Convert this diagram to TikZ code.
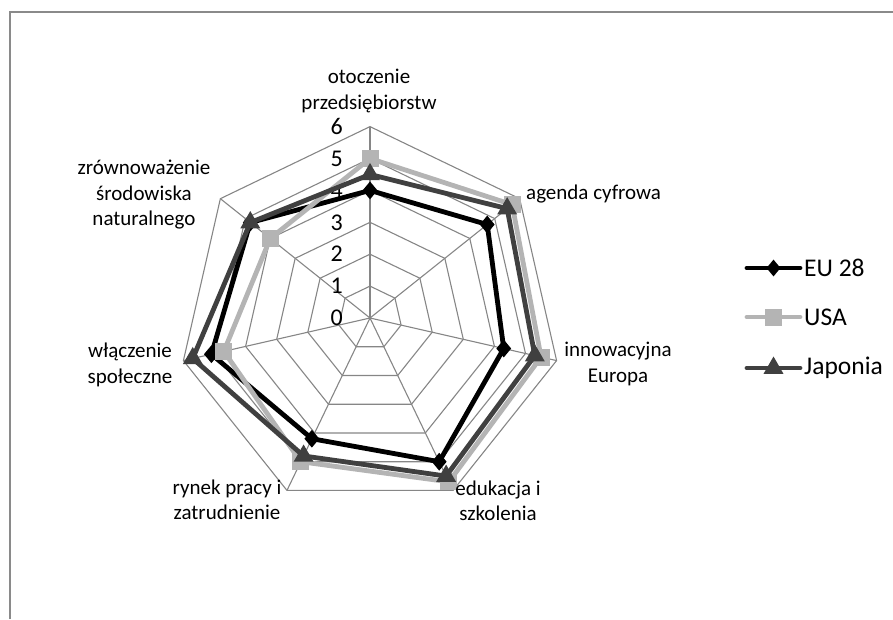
\documentclass[tikz,border=0pt]{standalone}
\usepackage{fontspec}
\setmainfont{Carlito}
\usetikzlibrary{shapes.geometric}
\definecolor{gridgray}{HTML}{868686}
\definecolor{framegray}{HTML}{8A8A8A}
\definecolor{usagray}{HTML}{B4B4B4}
\definecolor{jpgray}{HTML}{404040}
\newcommand\cx{370}
\newcommand\cy{318}
\newcommand\un{31.9}
\begin{document}
\begin{tikzpicture}[x=1pt,y=-1pt,
  gridline/.style={draw=gridgray, line width=1.1pt},
  serline/.style={line width=4.8pt, line join=round, line cap=round},
  eumark/.style={diamond, fill=black, inner sep=0pt, minimum width=15pt, minimum height=18pt},
  usamark/.style={rectangle, fill=usagray, inner sep=0pt, minimum size=17pt},
  jpmark/.style={regular polygon, regular polygon sides=3, fill=jpgray, inner sep=0pt, minimum size=23pt},
  cat/.style={font=\fontsize{21}{25.5}\selectfont, align=center, inner sep=0pt},
  tick/.style={font=\fontsize{24}{28}\selectfont, anchor=east, inner sep=0pt},
  leg/.style={font=\fontsize{25.5}{30}\selectfont, anchor=west, inner sep=0pt}]
\useasboundingbox (0,0) rectangle (893,619);
\draw[framegray, line width=2pt] (10,619) -- (10,12) -- (893,12);
\coordinate (c) at (\cx,\cy);
% axes
\foreach \k in {0,...,6} {
  \coordinate (ax\k) at ({\cx+6*\un*cos(90-\k*360/7)}, {\cy-6*\un*sin(90-\k*360/7)});
  \draw[gridline] (c) -- (ax\k);
}
% rings
\foreach \r in {1,...,6} {
  \draw[gridline] ({\cx+\r*\un*cos(90)}, {\cy-\r*\un*sin(90)})
    \foreach \k in {1,...,6} { -- ({\cx+\r*\un*cos(90-\k*360/7)}, {\cy-\r*\un*sin(90-\k*360/7)}) } -- cycle;
}
% tick labels
\foreach \v in {0,...,6} {
  \node[tick] (t\v) at (343, {\cy-\v*\un}) {\v};
}
% series points
\foreach \v [count=\i from 0] in {4.0,4.7,4.3,5.0,4.2,5.1,4.8} {
  \coordinate (eu\i) at ({\cx+\v*\un*cos(90-\i*360/7)}, {\cy-\v*\un*sin(90-\i*360/7)});
}
\foreach \v [count=\i from 0] in {5.0,5.7,5.5,5.7,5.0,4.7,4.0} {
  \coordinate (us\i) at ({\cx+\v*\un*cos(90-\i*360/7)}, {\cy-\v*\un*sin(90-\i*360/7)});
}
\foreach \v [count=\i from 0] in {4.5,5.5,5.3,5.5,4.8,5.7,4.8} {
  \coordinate (jp\i) at ({\cx+\v*\un*cos(90-\i*360/7)}, {\cy-\v*\un*sin(90-\i*360/7)});
}
\draw[serline, black] (eu0) -- (eu1) -- (eu2) -- (eu3) -- (eu4) -- (eu5) -- (eu6) -- cycle;
\foreach \i in {0,...,6} { \node[eumark] (eum\i) at (eu\i) {}; }
\draw[serline, usagray] (us0) -- (us1) -- (us2) -- (us3) -- (us4) -- (us5) -- (us6) -- cycle;
\foreach \i in {0,...,6} { \node[usamark] (usm\i) at (us\i) {}; }
\draw[serline, jpgray] (jp0) -- (jp1) -- (jp2) -- (jp3) -- (jp4) -- (jp5) -- (jp6) -- cycle;
\foreach \i in {0,...,6} { \node[jpmark] (jpm\i) at (jp\i) {}; }
% category labels
\node[cat] (l0) at (369,91) {otoczenie\\przedsiębiorstw};
\node[cat, anchor=west] (l1) at (526,194) {agenda cyfrowa};
\node[cat] (l2) at (618,364) {innowacyjna\\Europa};
\node[cat] (l3) at (498,501) {edukacja i\\szkolenia};
\node[cat] (l4) at (227,500) {rynek pracy i\\zatrudnienie};
\node[cat] (l5) at (130,365) {włączenie\\społeczne};
\node[cat] (l6) at (144,195) {zrównoważenie\\środowiska\\naturalnego};
% legend
\coordinate (la1) at (747,268); \coordinate (lb1) at (800,268);
\coordinate (la2) at (747,317); \coordinate (lb2) at (800,317);
\coordinate (la3) at (747,368); \coordinate (lb3) at (800,368);
\draw[serline, black] (la1) -- (lb1);
\node[eumark, minimum width=14pt, minimum height=17pt] (lm1) at (773.5,268) {};
\draw[serline, usagray] (la2) -- (lb2);
\node[usamark] (lm2) at (773.5,317) {};
\draw[serline, jpgray] (la3) -- (lb3);
\node[jpmark] (lm3) at (773.5,368) {};
\node[leg] (lt1) at (804,268) {EU 28};
\node[leg] (lt2) at (804,317) {USA};
\node[leg] (lt3) at (804,368) {Japonia};
\end{tikzpicture}
\end{document}
